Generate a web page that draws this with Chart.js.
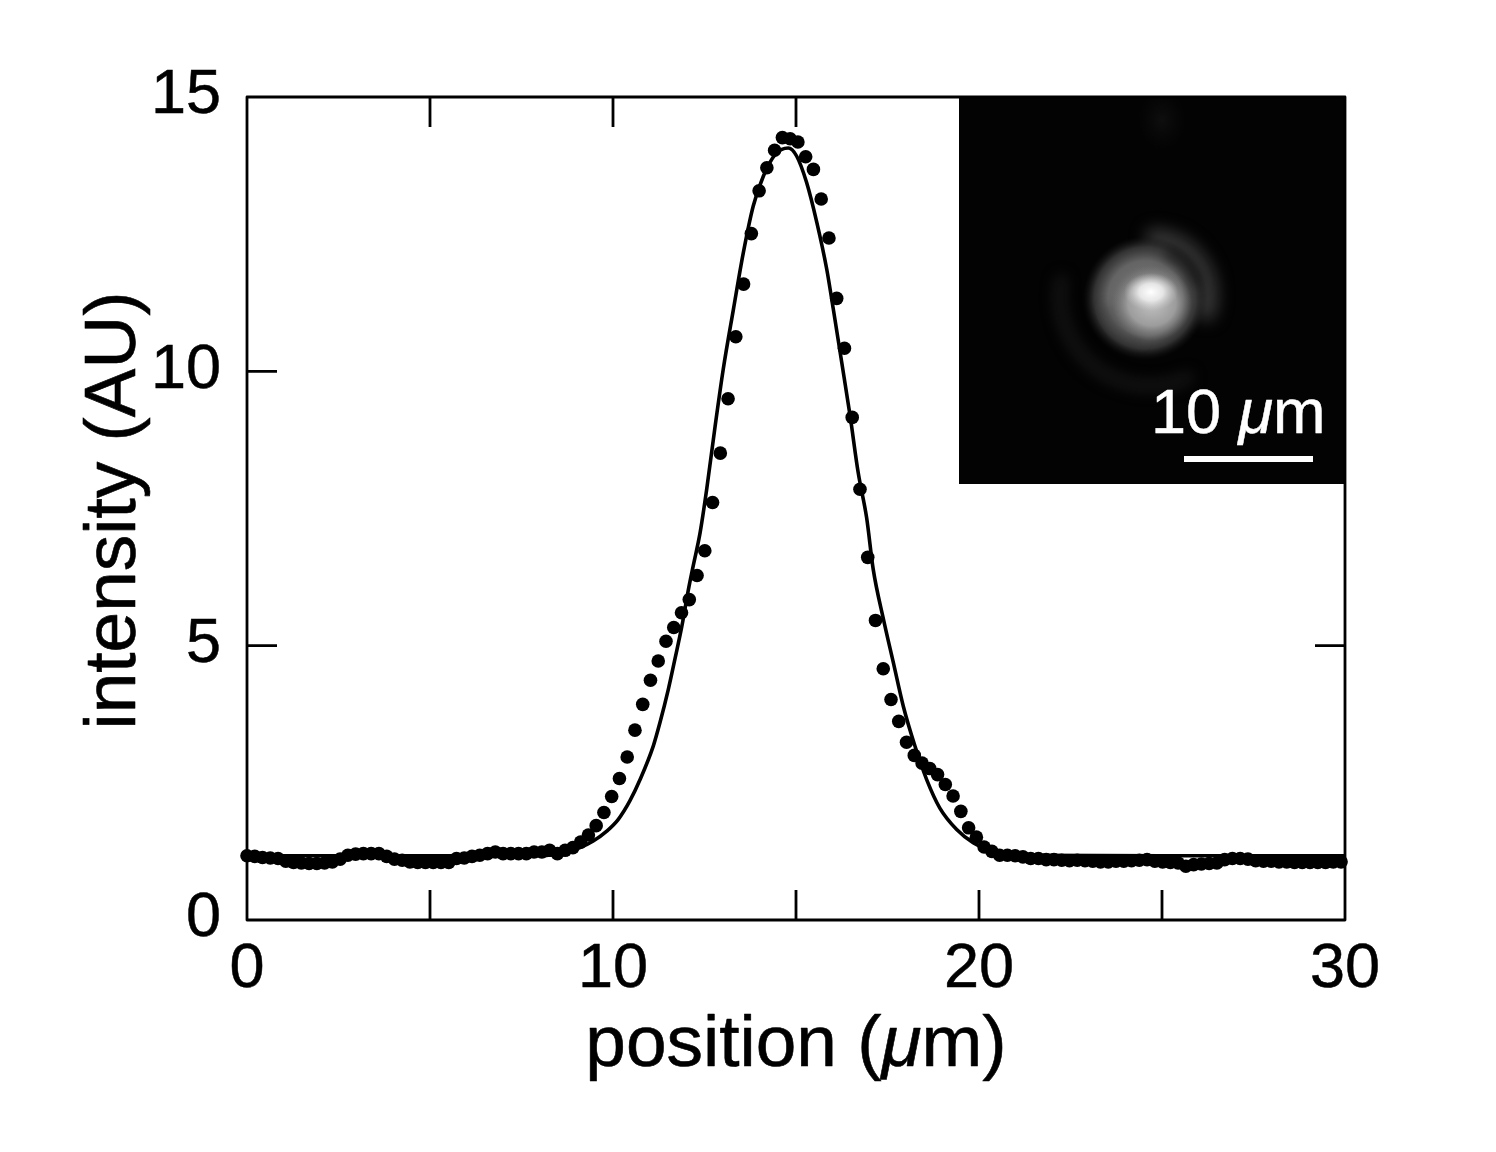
<!DOCTYPE html>
<html><head><meta charset="utf-8">
<style>html,body{margin:0;padding:0;background:#fff}canvas{display:block}</style>
<script src="https://cdn.jsdelivr.net/npm/chart.js@4"></script>
</head><body><canvas id="c" width="1496" height="1152"></canvas>
<script>
const positions=[0,.212,.424,.636,.848,1.06,1.272,1.484,1.696,1.908,2.12,2.332,2.544,2.756,2.968,3.18,3.392,3.604,3.816,4.028,4.24,4.452,4.664,4.876,5.088,5.3,5.512,5.724,5.936,6.148,6.36,6.572,6.784,6.996,7.208,7.42,7.632,7.844,8.056,8.268,8.48,8.692,8.904,9.116,9.328,9.54,9.752,9.964,10.176,10.388,10.6,10.812,11.024,11.236,11.448,11.66,11.872,12.084,12.296,12.508,12.72,12.932,13.144,13.356,13.568,13.78,13.992,14.204,14.416,14.628,14.84,15.052,15.264,15.476,15.688,15.9,16.112,16.324,16.536,16.748,16.96,17.172,17.384,17.596,17.808,18.02,18.232,18.444,18.656,18.868,19.08,19.292,19.504,19.716,19.928,20.14,20.352,20.564,20.776,20.988,21.2,21.412,21.624,21.836,22.048,22.26,22.472,22.684,22.896,23.108,23.32,23.532,23.744,23.956,24.168,24.38,24.592,24.804,25.016,25.228,25.44,25.652,25.864,26.076,26.288,26.5,26.712,26.924,27.136,27.348,27.56,27.772,27.984,28.196,28.408,28.62,28.832,29.044,29.256,29.468,29.68,29.892];
const intensity=[1.17,1.16,1.14,1.13,1.12,1.07,1.05,1.04,1.03,1.03,1.04,1.06,1.11,1.18,1.2,1.21,1.21,1.21,1.16,1.11,1.09,1.06,1.05,1.05,1.05,1.05,1.05,1.12,1.13,1.16,1.18,1.21,1.24,1.21,1.21,1.21,1.21,1.24,1.24,1.27,1.21,1.27,1.32,1.42,1.55,1.72,1.96,2.25,2.58,2.97,3.46,3.93,4.37,4.72,5.08,5.33,5.6,5.84,6.28,6.73,7.61,8.51,9.5,10.63,11.59,12.51,13.29,13.71,14.03,14.26,14.24,14.18,13.91,13.68,13.14,12.43,11.33,10.42,9.16,7.85,6.61,5.46,4.58,4.02,3.62,3.24,3,2.86,2.76,2.65,2.47,2.26,1.98,1.68,1.51,1.33,1.25,1.18,1.18,1.17,1.15,1.12,1.12,1.1,1.1,1.09,1.08,1.09,1.08,1.07,1.06,1.06,1.07,1.07,1.08,1.09,1.1,1.07,1.06,1.05,1.04,.98,1.01,1.02,1.03,1.04,1.1,1.12,1.12,1.11,1.08,1.07,1.07,1.06,1.06,1.05,1.05,1.05,1.05,1.05,1.06,1.06];
const fitX=[0,5,8,8.7,9.1,9.46,9.83,10.14,10.46,10.74,11.1,11.28,11.51,11.69,11.88,12.06,12.19,12.38,12.56,12.79,13.01,13.29,13.56,13.83,14.11,14.43,14.79,15.02,15.29,15.57,15.84,16.02,16.25,16.48,16.7,16.93,17.11,17.39,17.66,17.93,18.25,18.57,18.93,19.39,19.84,20.12,20.57,21.5,25,30];
const fitY=[1.17,1.17,1.17,1.24,1.32,1.44,1.62,1.83,2.17,2.56,3.17,3.59,4.2,4.75,5.35,6.02,6.45,7.06,7.85,9,10.03,11.13,12.16,13.01,13.56,13.95,14.07,13.92,13.44,12.71,11.86,11.13,10.16,9.18,8.15,7.33,6.39,5.48,4.69,3.9,3.17,2.56,2.04,1.65,1.41,1.32,1.22,1.18,1.17,1.17];
const xTickLabels=['0','10','20','30'];
const yTickLabels=['0','5','10','15'];
const xTitlePieces=[['position (',false],['\u03bc',true],['m)',false]];
const yTitlePieces=[['intensity (AU)',false]];
const scalePieces=[['10 ',false],['\u03bc',true],['m',false]];
const FONT='"Liberation Sans"';

function mixed(ctx,pieces,size,x,y,align,stroke){
  const f=it=>(it?'italic ':'')+size+'px '+FONT;
  let w=0;pieces.forEach(p=>{ctx.font=f(p[1]);w+=ctx.measureText(p[0]).width;});
  let cx=align==='center'?x-w/2:x;
  ctx.textAlign='left';ctx.textBaseline='alphabetic';
  ctx.lineWidth=stroke;ctx.lineJoin='round';
  pieces.forEach(p=>{ctx.font=f(p[1]);ctx.fillText(p[0],cx,y);ctx.strokeText(p[0],cx,y);cx+=ctx.measureText(p[0]).width;});
}
function spot(ctx,cx,cy,rx,ry,stops){
  ctx.save();ctx.translate(cx,cy);ctx.scale(rx,ry);
  const g=ctx.createRadialGradient(0,0,0,0,0,1);
  stops.forEach(s=>g.addColorStop(s[0],s[1]));
  ctx.fillStyle=g;ctx.fillRect(-1,-1,2,2);ctx.restore();
}
function arc(ctx,cx,cy,r,a0,a1,col,w,blur){
  ctx.save();ctx.filter='blur('+blur+'px)';ctx.strokeStyle=col;ctx.lineWidth=w;ctx.lineCap='round';
  ctx.beginPath();ctx.arc(cx,cy,r,a0*Math.PI/180,a1*Math.PI/180);ctx.stroke();ctx.restore();
}
const framePlugin={id:'frame',
  afterDatasetsDraw(chart){
    const ctx=chart.ctx,a=chart.chartArea,sx=chart.scales.x,sy=chart.scales.y;
    ctx.save();
    ctx.strokeStyle='#000';ctx.lineWidth=2.8;ctx.beginPath();
    sx.ticks.forEach(t=>{const p=sx.getPixelForValue(t.value);
      if(t.value<=0||t.value>=30)return;
      ctx.moveTo(p,a.bottom);ctx.lineTo(p,a.bottom-30);ctx.moveTo(p,a.top);ctx.lineTo(p,a.top+30);});
    sy.ticks.forEach(t=>{const p=sy.getPixelForValue(t.value);
      if(t.value<=0||t.value>=15)return;
      ctx.moveTo(a.left,p);ctx.lineTo(a.left+30,p);ctx.moveTo(a.right,p);ctx.lineTo(a.right-30,p);});
    ctx.stroke();
    // inset camera image
    const L=959,T=97,S=387;
    ctx.save();ctx.beginPath();ctx.rect(L,T,S,S);ctx.clip();
    ctx.fillStyle='#030303';ctx.fillRect(L,T,S,S);
    spot(ctx,1162,120,24,30,[[0,'rgba(22,22,22,.6)'],[1,'rgba(15,15,15,0)']]);
    arc(ctx,1150,296,90,65,190,'rgba(30,30,30,.7)',11,7);
    arc(ctx,1150,296,58,-85,15,'rgba(72,72,72,.75)',20,8);
    spot(ctx,1145,298,62,62,[[0,'rgba(125,125,125,1)'],[.6,'rgba(100,100,100,1)'],[.82,'rgba(62,62,62,.8)'],[1,'rgba(25,25,25,0)']]);
    arc(ctx,1155,296,45,-70,-20,'rgba(22,22,22,.7)',11,6);
    arc(ctx,1152,296,47,105,165,'rgba(50,50,50,.4)',7,5);
    spot(ctx,1152,303,40,38,[[0,'rgba(195,195,195,1)'],[.6,'rgba(165,165,165,.85)'],[1,'rgba(120,120,120,0)']]);
    spot(ctx,1151,292,27,19,[[0,'rgba(255,255,255,1)'],[.45,'rgba(240,240,240,.85)'],[1,'rgba(200,200,200,0)']]);
    ctx.restore();
    ctx.fillStyle='#fff';ctx.strokeStyle='#fff';
    ctx.fillRect(1184,456,129,6);
    mixed(ctx,scalePieces,63,1151,433,'left',.5);
    // frame
    ctx.strokeStyle='#000';ctx.lineWidth=2.8;
    ctx.strokeRect(a.left,a.top,a.right-a.left,a.bottom-a.top);
    // axis titles
    ctx.fillStyle='#000';
    mixed(ctx,xTitlePieces,73,(a.left+a.right)/2,1066,'center',.6);
    ctx.save();ctx.translate(135,510.5);ctx.rotate(-Math.PI/2);
    mixed(ctx,yTitlePieces,73,0,0,'center',.6);
    ctx.restore();
    ctx.restore();
  }};
new Chart(document.getElementById('c'),{
  type:'scatter',
  plugins:[framePlugin],
  data:{datasets:[
    {label:'fit',data:fitX.map((x,i)=>({x,y:fitY[i]})),showLine:true,borderColor:'#000',borderWidth:3.6,pointRadius:0,cubicInterpolationMode:'monotone',clip:false},
    {label:'intensity',data:positions.map((x,i)=>({x,y:intensity[i]})),showLine:false,backgroundColor:'#000',borderColor:'#000',borderWidth:0,pointRadius:6.8,clip:false}
  ]},
  options:{
    responsive:false,animation:false,devicePixelRatio:1,
    layout:{padding:{left:0,top:97,right:151,bottom:0}},
    plugins:{legend:{display:false},tooltip:{enabled:false}},
    scales:{
      x:{type:'linear',min:0,max:30,
        grid:{display:false,drawTicks:false},border:{display:false},
        afterFit(s){s.height=232;},
        ticks:{stepSize:5,maxRotation:0,autoSkip:false,padding:12,color:'#000',font:{family:FONT,size:63},textStrokeColor:'#000',textStrokeWidth:.5,
          callback:v=>xTickLabels.includes(String(v))?String(v):''}},
      y:{type:'linear',min:0,max:15,
        grid:{display:false,drawTicks:false},border:{display:false},
        afterFit(s){s.width=247;},
        ticks:{stepSize:5,padding:26,labelOffset:-1,color:'#000',font:{family:FONT,size:63},textStrokeColor:'#000',textStrokeWidth:.5,
          callback:v=>yTickLabels.includes(String(v))?String(v):''}}
    }
  }
});
</script></body></html>
